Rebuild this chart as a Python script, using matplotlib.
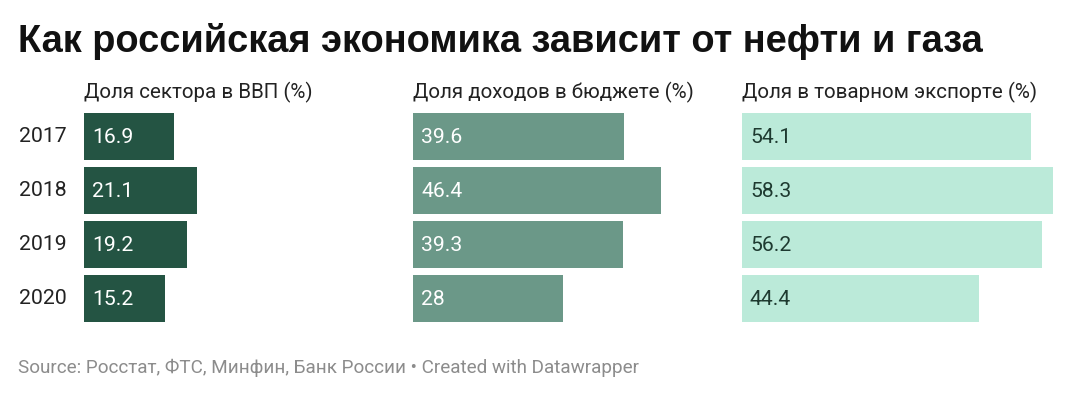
import numpy as np
import matplotlib.pyplot as plt

years = ["2017", "2018", "2019", "2020"]
gdp_share = [16.9, 21.1, 19.2, 15.2]
budget_share = [39.6, 46.4, 39.3, 28]
export_share = [54.1, 58.3, 56.2, 44.4]

panel_titles = [
    "Доля сектора в ВВП (%)",
    "Доля доходов в бюджете (%)",
    "Доля в товарном экспорте (%)",
]
title = "Как российская экономика зависит от нефти и газа"
source = "Source: Росстат, ФТС, Минфин, Банк России • Created with Datawrapper"

W, H = 1080, 397
fig = plt.figure(figsize=(W / 100, H / 100), dpi=100)
fig.patch.set_facecolor("white")


def fx(px):
    return px / W


def fy(py):
    return 1 - py / H


series = [gdp_share, budget_share, export_share]
colors = ["#245443", "#6b9888", "#bbead9"]
text_colors = ["white", "white", "#1e3a30"]
lefts = [84, 413, 742]
panel_w = 311.3
xmax = max(max(s) for s in series)
top, row_h = 109.5, 54

for vals, col, tcol, left, ptitle in zip(series, colors, text_colors, lefts, panel_titles):
    ax = fig.add_axes([fx(left), fy(top + row_h * len(years)), fx(panel_w), row_h * len(years) / H])
    y = np.arange(len(years))
    ax.barh(y, vals, height=0.865, color=col)
    ax.set_xlim(0, xmax)
    ax.set_ylim(len(years) - 0.5, -0.5)
    ax.axis("off")
    for yi, v in zip(y, vals):
        ax.annotate(f"{v:g}", (0, yi), xytext=(8, -1), textcoords="offset pixels",
                    va="center", ha="left", fontsize=15.2, color=tcol, family="Roboto")
    fig.text(fx(left), fy(92), ptitle, fontsize=14.8, family="Roboto",
             color="#222222", va="center", ha="left")

for i, yr in enumerate(years):
    fig.text(fx(19), fy(top + row_h * (i + 0.5)), yr, fontsize=15.3, family="Roboto",
             color="#222222", va="center", ha="left")

fig.text(fx(18), fy(52), title, fontsize=27.4, fontweight="bold",
         family="Liberation Sans", color="#111111", va="baseline", ha="left")
fig.text(fx(18), fy(368), source, fontsize=13.6, family="Roboto",
         color="#8c8c8c", va="center", ha="left")

fig.savefig("out.png", dpi=100)
